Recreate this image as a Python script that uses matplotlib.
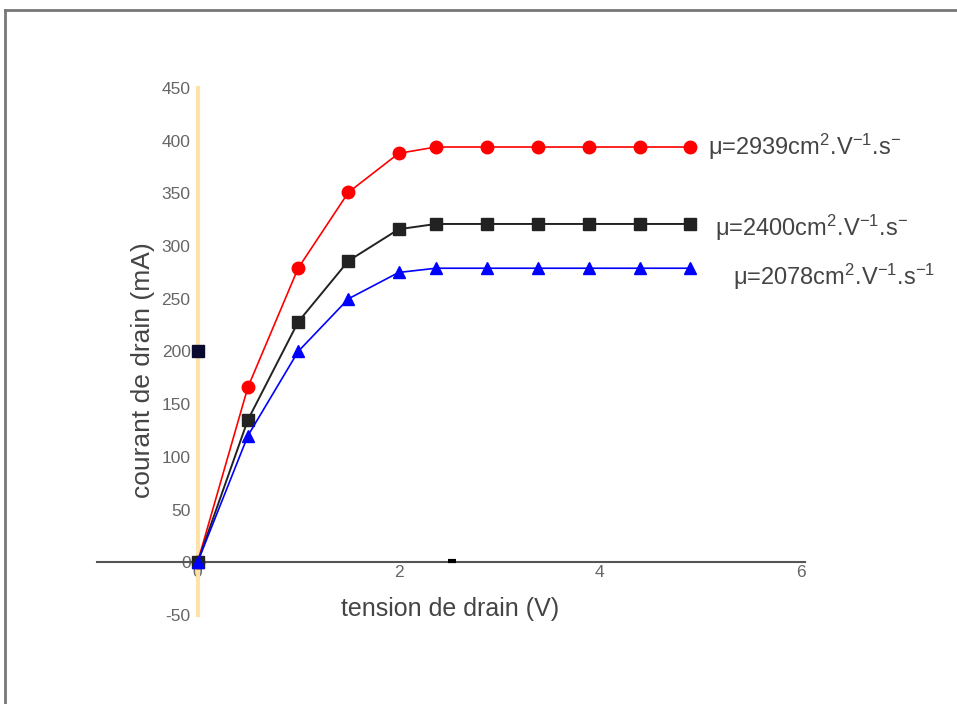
import numpy as np
import matplotlib.pyplot as plt
from matplotlib.lines import Line2D

plt.rcParams['font.family'] = ['Liberation Sans', 'DejaVu Sans']
plt.rcParams['mathtext.fontset'] = 'custom'
plt.rcParams['mathtext.rm'] = 'Liberation Sans'
plt.rcParams['mathtext.it'] = 'Liberation Sans'
plt.rcParams['mathtext.default'] = 'regular'

# Tension de drain (V)
tension = np.array([0, 0.5, 1.0, 1.5, 2.0, 2.37, 2.88, 3.39, 3.89, 4.4, 4.9])

# Courant de drain (mA) pour chaque mobilite
courant_2939 = np.array([0, 166, 279, 351, 388, 394, 394, 394, 394, 394, 394])
courant_2400 = np.array([0, 135, 228, 286, 316, 321, 321, 321, 321, 321, 321])
courant_2078 = np.array([0, 120, 200, 250, 275, 279, 279, 279, 279, 279, 279])

etiquettes = [r'μ=2939cm$^{2}$.V$^{-1}$.s$^{-}$',
              r'μ=2400cm$^{2}$.V$^{-1}$.s$^{-}$',
              r'μ=2078cm$^{2}$.V$^{-1}$.s$^{-1}$']

# points isoles restes sur le graphe
point_carre = (0, 200)
point_tiret = (2.53, 1.5)

yticks = np.arange(-50, 451, 50)
xticks = [0, 2, 4, 6]

fig = plt.figure(figsize=(9.57, 7.04), dpi=100)
ax = fig.add_axes([97 / 957, 1 - 615 / 704, (805 - 97) / 957, (615 - 88) / 704])

ax.plot(tension, courant_2939, color='#ff0000', lw=1.2, marker='o', ms=9, zorder=3)
ax.plot(tension, courant_2400, color='#222222', lw=1.4, marker='s', ms=8.5, zorder=3)
ax.plot(tension, courant_2078, color='#0000ff', lw=1.2, marker='^', ms=9, zorder=3)

ax.plot(*point_carre, marker='s', color='#0a0a30', ms=8, zorder=4)
ax.plot(*point_tiret, marker='_', color='black', ms=6, mew=3, zorder=4)

# etiquettes des courbes a droite
gris = '#444444'
ax.text(5.08, courant_2939[-1], etiquettes[0], fontsize=17, color=gris, va='center')
ax.text(5.15, courant_2400[-1] - 4, etiquettes[1], fontsize=17, color=gris, va='center')
ax.text(5.32, courant_2078[-1] - 8, etiquettes[2], fontsize=17, color=gris, va='center')

ax.set_xlim(-1.0, 6.04)
ax.set_ylim(-50, 450)

ax.spines['top'].set_visible(False)
ax.spines['right'].set_visible(False)
ax.spines['left'].set_position(('data', 0))
ax.spines['bottom'].set_position(('data', 0))
ax.spines['left'].set_color('#ffe2a8')
ax.spines['left'].set_linewidth(3)
ax.spines['bottom'].set_color('#555555')
ax.spines['bottom'].set_linewidth(1.5)

ax.set_xticks(xticks)
ax.set_yticks(yticks)
ax.set_yticklabels([str(v) for v in yticks])
ax.tick_params(length=0, labelsize=12.5, labelcolor='#666666')
ax.tick_params(axis='y', pad=5)
ax.tick_params(axis='x', pad=2)

fig.text(143 / 957, 1 - 370 / 704, 'courant de drain (mA)', rotation=90,
         fontsize=19, color=gris, ha='center', va='center')
fig.text(450 / 957, 1 - 609 / 704, 'tension de drain (V)',
         fontsize=18, color=gris, ha='center', va='center')

# cadre gris en haut et a gauche
fig.add_artist(Line2D([5 / 957, 1], [1 - 10 / 704, 1 - 10 / 704], color='#777777', lw=2))
fig.add_artist(Line2D([5 / 957, 5 / 957], [0, 1 - 10 / 704], color='#777777', lw=2))

plt.savefig('out.png', dpi=100)
